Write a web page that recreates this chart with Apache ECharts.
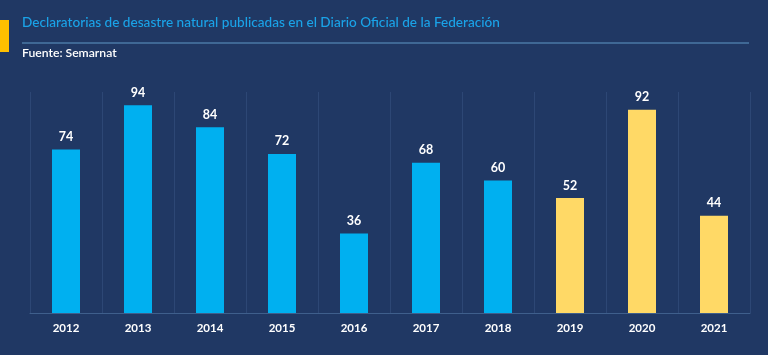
<!DOCTYPE html>
<html><head><meta charset="utf-8">
<script src="https://cdn.jsdelivr.net/npm/echarts@6/dist/echarts.min.js"></script>
<style>html,body{margin:0;padding:0;background:#203864;}#c{width:768px;height:355px;}</style>
</head><body><div id="c"></div>
<script>
const categories = ['2012','2013','2014','2015','2016','2017','2018','2019','2020','2021'];
const values = [74, 94, 84, 72, 36, 68, 60, 52, 92, 44];
const colors = ['#00b0f0','#00b0f0','#00b0f0','#00b0f0','#00b0f0','#00b0f0','#00b0f0','#ffd966','#ffd966','#ffd966'];
const chart = echarts.init(document.getElementById('c'));
chart.setOption({
  backgroundColor: '#203864',
  textStyle: {fontFamily: 'Lato'},
  graphic: [
    {type:'rect', shape:{x:0,y:20,width:9,height:32}, style:{fill:'#ffc000'}},
    {type:'text', left:22, top:16, style:{text:'Declaratorias de desastre natural publicadas en el Diario Oficial de la Federación', fill:'#1aa3e8', font:'500 13.6px Lato'}},
    {type:'line', shape:{x1:22,y1:43,x2:749,y2:43}, style:{stroke:'#4a78a6', lineWidth:1.5}},
    {type:'text', left:22, top:47, style:{text:'Fuente: Semarnat', fill:'#ffffff', font:'600 12.2px Lato'}}
  ],
  grid: {left:30, right:18, top:92, bottom:42},
  xAxis: {
    type:'category', data: categories,
    axisLine:{lineStyle:{color:'#3f5f8c'}},
    axisTick:{show:false},
    axisLabel:{color:'#ffffff', fontSize:11.5, fontWeight:'bold', margin:9},
    splitLine:{show:true, lineStyle:{color:'#2d4775', width:1}}
  },
  yAxis: {type:'value', min:0, max:100, show:false, splitLine:{show:false}},
  series: [{
    type:'bar', barWidth:28,
    data: values.map((v,i)=>({value:v, itemStyle:{color:colors[i]}})),
    label:{show:true, position:'top', color:'#ffffff', fontSize:12.5, fontWeight:'bold', distance:6}
  }]
});
</script></body></html>
